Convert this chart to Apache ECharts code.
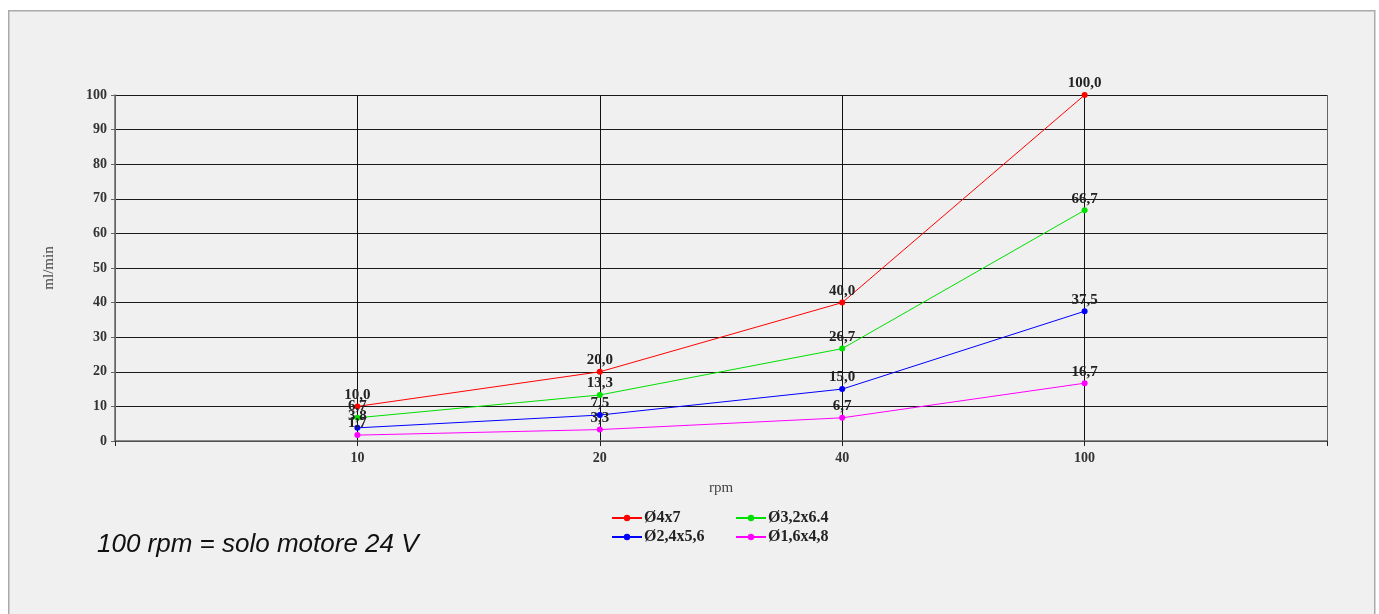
<!DOCTYPE html>
<html>
<head>
<meta charset="utf-8">
<script src="https://cdn.jsdelivr.net/npm/echarts@6/dist/echarts.min.js"></script>
<style>
html,body{margin:0;padding:0;background:#fff;}
#c{width:1379px;height:614px;}
</style>
</head>
<body>
<div id="c"></div>
<script>
const categories = ['', '10', '20', '40', '100', ''];
const seriesNames = ['Ø4x7', 'Ø3,2x6.4', 'Ø2,4x5,6', 'Ø1,6x4,8'];
const s1 = [null, 10.0, 20.0, 40.0, 100.0, null];
const s2 = [null, 6.7, 13.3, 26.7, 66.7, null];
const s3 = [null, 3.8, 7.5, 15.0, 37.5, null];
const s4 = [null, 1.7, 3.3, 6.7, 16.7, null];
const colors = ['#ff0000', '#00e000', '#0000ff', '#ff00ff'];
const note = '100 rpm = solo motore 24 V';

const serif = 'Liberation Serif';
const chart = echarts.init(document.getElementById('c'));
function mk(name, data, color) {
  return {
    name: name, type: 'line', data: data, color: color,
    symbol: 'circle', symbolSize: 6, connectNulls: false,
    lineStyle: { width: 1, color: color },
    itemStyle: { color: color },
    label: {
      show: true, position: 'top', distance: 1,
      fontFamily: serif, fontWeight: 'bold', fontSize: 15, color: '#222',
      formatter: p => p.value == null ? '' : p.value.toFixed(1).replace('.', ',')
    },
    emphasis: { disabled: true }
  };
}
chart.setOption({
  backgroundColor: 'transparent',
  animation: false,
  graphic: [
    { type: 'rect', left: 8, top: 10, z: -10, shape: { width: 1366, height: 620 },
      style: { fill: '#f0f0f0', stroke: '#aaaaaa', lineWidth: 1.5 } },
    { type: 'text', left: 97, top: 532, style: { text: note, font: 'italic 26px "Liberation Sans"', fill: '#111' } }
  ],
  grid: { left: 115, right: 52, top: 95, bottom: 173 },
  legend: [
    { data: [seriesNames[0], seriesNames[2]], orient: 'vertical', left: 606, top: 505, itemGap: 3, itemWidth: 30, itemHeight: 8,
      textStyle: { fontFamily: serif, fontWeight: 'bold', fontSize: 16, color: '#222', padding: [0, 0, 0, -3] } },
    { data: [seriesNames[1], seriesNames[3]], orient: 'vertical', left: 730, top: 505, itemGap: 3, itemWidth: 30, itemHeight: 8,
      textStyle: { fontFamily: serif, fontWeight: 'bold', fontSize: 16, color: '#222', padding: [0, 0, 0, -3] } }
  ],
  xAxis: {
    type: 'category', data: categories, boundaryGap: false,
    name: 'rpm', nameLocation: 'middle', nameGap: 40,
    nameTextStyle: { fontFamily: serif, fontSize: 15, color: '#444' },
    axisLine: { lineStyle: { color: '#666', width: 1.5 } },
    axisTick: { show: true, interval: 0, length: 5, lineStyle: { color: '#222' } },
    axisLabel: { interval: 0, margin: 10, fontFamily: serif, fontWeight: 'bold', fontSize: 14, color: '#333' },
    splitLine: { show: true, interval: 0, lineStyle: { color: ['#666', '#111', '#111', '#111', '#111', '#666'], width: 1 } }
  },
  yAxis: {
    type: 'value', min: 0, max: 100, interval: 10,
    name: 'ml/min', nameLocation: 'middle', nameGap: 58, nameRotate: 90,
    nameTextStyle: { fontFamily: serif, fontSize: 15, color: '#444' },
    axisLine: { show: true, lineStyle: { color: '#666', width: 1.5 } },
    axisTick: { show: true, length: 4, lineStyle: { color: '#666' } },
    axisLabel: { margin: 8, fontFamily: serif, fontWeight: 'bold', fontSize: 14, color: '#333' },
    splitLine: { show: true, lineStyle: { color: '#1a1a1a', width: 1 } }
  },
  series: [
    mk(seriesNames[0], s1, colors[0]),
    mk(seriesNames[1], s2, colors[1]),
    mk(seriesNames[2], s3, colors[2]),
    mk(seriesNames[3], s4, colors[3])
  ]
});
</script>
</body>
</html>
